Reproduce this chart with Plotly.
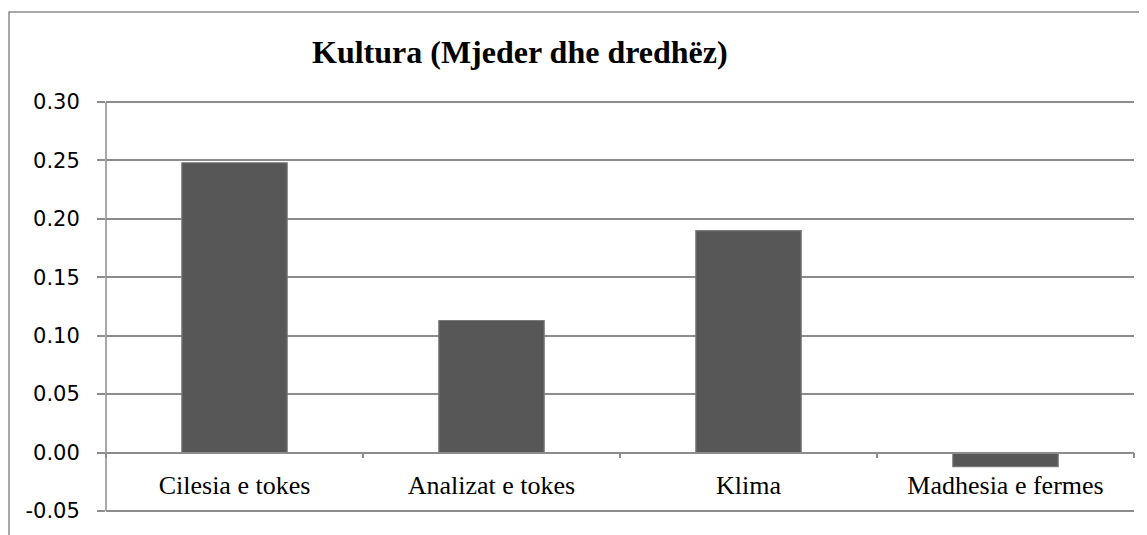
import plotly.graph_objects as go

categories = ["Cilesia e tokes", "Analizat e tokes", "Klima", "Madhesia e fermes"]
values = [0.248, 0.113, 0.190, -0.012]
y_ticks = [-0.05, 0.00, 0.05, 0.10, 0.15, 0.20, 0.25, 0.30]
y_tick_labels = ["-0.05", "0.00", "0.05", "0.10", "0.15", "0.20", "0.25", "0.30"]
title_text = "Kultura (Mjeder dhe dredhëz)"

OFF = 8  # default page body margin
W, H = 1147 - OFF, 535 - OFF
# target plot-area edges in page pixels
PL, PR, PT, PB = 106, 1134, 100, 513
L, T = PL - OFF, PT - OFF
R = W - (PR - OFF)
B = H - (PB - OFF)
pw, ph = PR - PL, PB - PT
ymin, ymax = -0.05, 0.30
pad = (ymax - ymin) * 2 / (ph - 4)
rmin, rmax = ymin - pad, ymax + pad

def px_x(px):
    return (px - PL) / pw

def px_y(py):
    return (PB - py) / ph

zero_pos = (0 - rmin) / (rmax - rmin)

fig = go.Figure()
fig.add_trace(go.Bar(
    x=categories, y=values,
    marker=dict(color="#575757", line=dict(color="#7a7a7a", width=1.2)),
    width=0.41,
))

fig.update_layout(
    width=W, height=H,
    margin=dict(l=L, r=R, t=T, b=B, autoexpand=False),
    paper_bgcolor="white", plot_bgcolor="white",
    showlegend=False,
    xaxis=dict(
        anchor="free", position=zero_pos,
        showline=True, linecolor="#8c8c8c", linewidth=1.5,
        ticks="outside", tickson="boundaries", ticklen=5, tickcolor="#8c8c8c", tickwidth=1.5,
        showgrid=False,
        tickfont=dict(family="Liberation Serif", size=26, color="black"),
        ticklabelstandoff=9,
    ),
    yaxis=dict(
        range=[rmin, rmax],
        tickvals=y_ticks, ticktext=y_tick_labels,
        showgrid=True, gridcolor="#8c8c8c", gridwidth=1.5,
        showline=False,
        ticks="outside", ticklen=8, tickcolor="#8c8c8c", tickwidth=1.5,
        zeroline=False,
        tickfont=dict(family="DejaVu Sans", size=21, color="black"),
        ticklabelstandoff=13,
    ),
    annotations=[dict(
        text="<b>" + title_text + "</b>",
        x=px_x(519.5), y=px_y(52), xref="paper", yref="paper",
        xanchor="center", yanchor="middle", showarrow=False,
        font=dict(family="Liberation Serif", size=32, color="black"),
    )],
    shapes=[
        dict(
            type="rect", xref="paper", yref="paper",
            x0=px_x(9), x1=px_x(1170), y0=px_y(580), y1=px_y(12),
            line=dict(color="#8c8c8c", width=1.5), fillcolor="rgba(0,0,0,0)",
            layer="below",
        ),
        dict(
            type="line", xref="paper", yref="y",
            x0=0, x1=0, y0=ymin, y1=ymax,
            line=dict(color="#8c8c8c", width=1.5),
        ),
    ],
)

fig.write_html("out.html")
